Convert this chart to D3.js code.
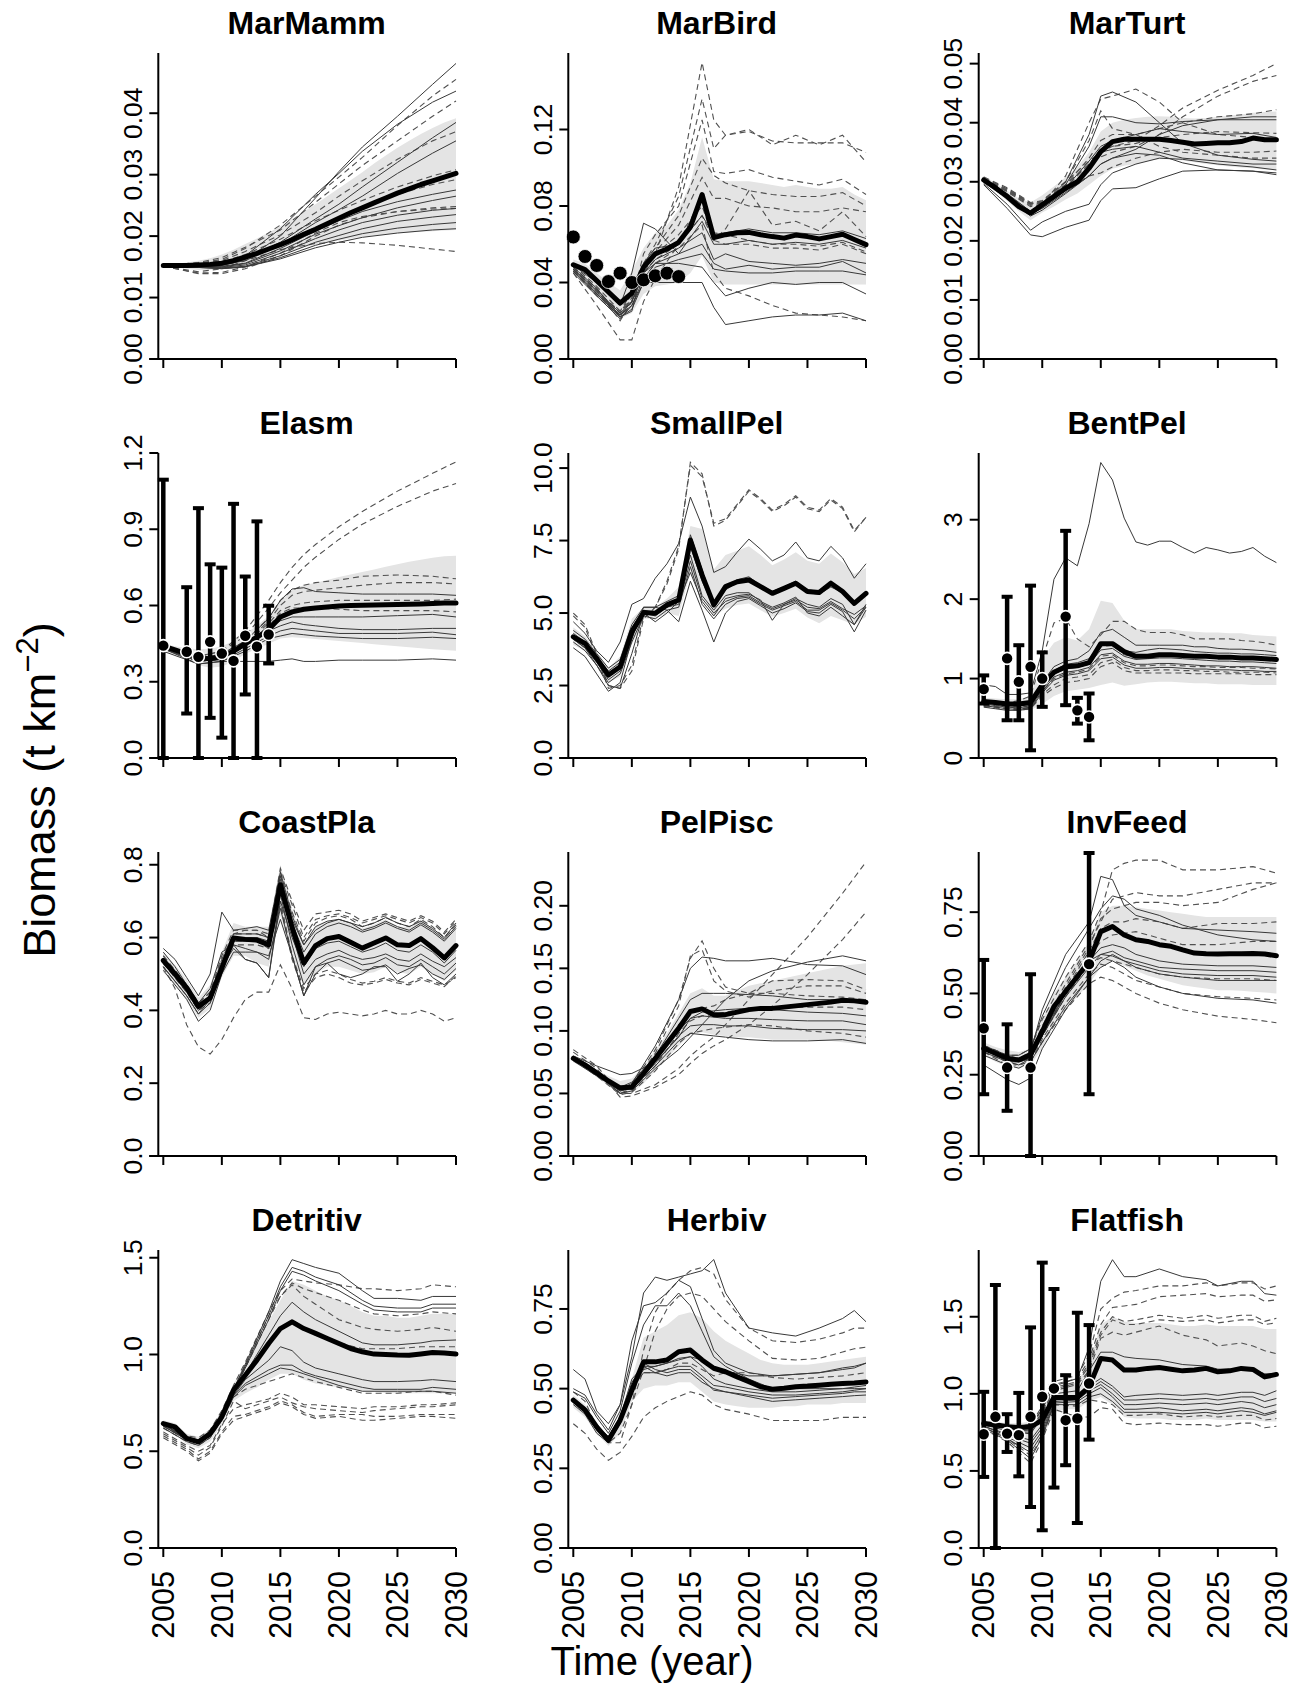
<!DOCTYPE html>
<html><head><meta charset="utf-8">
<script src="https://cdn.jsdelivr.net/npm/d3@7"></script>
<style>body{margin:0;background:#fff;}svg{display:block;font-family:"Liberation Sans",Arial,sans-serif;}</style>
</head><body>
<script>
// ---------------- DATA ----------------
const years = [2005,2006,2007,2008,2009,2010,2011,2012,2013,2014,2015,2016,2017,2018,2019,2020,2021,2022,2023,2024,2025,2026,2027,2028,2029,2030];
const xTicks = [2005,2010,2015,2020,2025,2030];
const panelNames = ["MarMamm","MarBird","MarTurt","Elasm","SmallPel","BentPel","CoastPla","PelPisc","InvFeed","Detritiv","Herbiv","Flatfish"];
const yMax = [0.0498,0.160,0.0518,1.2,10.52,3.84,0.835,0.243,0.935,1.54,0.935,1.933];
const yTickVals = [[0,0.01,0.02,0.03,0.04],[0,0.04,0.08,0.12],[0,0.01,0.02,0.03,0.04,0.05],[0,0.3,0.6,0.9,1.2],[0,2.5,5,7.5,10],[0,1,2,3],[0,0.2,0.4,0.6,0.8],[0,0.05,0.10,0.15,0.20],[0,0.25,0.5,0.75],[0,0.5,1,1.5],[0,0.25,0.5,0.75],[0,0.5,1,1.5]];
const yTickLabels = [["0.00","0.01","0.02","0.03","0.04"],["0.00","0.04","0.08","0.12"],["0.00","0.01","0.02","0.03","0.04","0.05"],["0.0","0.3","0.6","0.9","1.2"],["0.0","2.5","5.0","7.5","10.0"],["0","1","2","3"],["0.0","0.2","0.4","0.6","0.8"],["0.00","0.05","0.10","0.15","0.20"],["0.00","0.25","0.50","0.75"],["0.0","0.5","1.0","1.5"],["0.00","0.25","0.50","0.75"],["0.0","0.5","1.0","1.5"]];

// MarMamm
const mmMean = [.0152,.0152,.0152,.0153,.0154,.0156,.0160,.0166,.0172,.0179,.0186,.0194,.0203,.0211,.0220,.0229,.0238,.0246,.0254,.0262,.0270,.0277,.0284,.0290,.0296,.0302];
const mmHi = [.0154,.0155,.0157,.0160,.0164,.0170,.0178,.0187,.0196,.0206,.0216,.0228,.0240,.0252,.0265,.0278,.0291,.0304,.0318,.0331,.0344,.0355,.0366,.0376,.0385,.0392];
const mmLo = [.0150,.0149,.0147,.0145,.0145,.0147,.0151,.0156,.0161,.0167,.0172,.0177,.0182,.0186,.0190,.0193,.0196,.0199,.0201,.0203,.0205,.0206,.0207,.0208,.0209,.0210];
const mmKey = [2005,2008,2010,2012,2015,2018,2020,2022,2025,2028,2030];
const mmSolid = [
 [.0152,.0151,.0152,.0162,.0200,.0262,.0305,.0345,.0395,.0447,.0481],
 [.0152,.0153,.0156,.0168,.0212,.0268,.0302,.0338,.0382,.0418,.0436],
 [.0152,.0152,.0154,.0162,.0190,.0228,.0252,.0280,.0320,.0360,.0385],
 [.0152,.0152,.0153,.0160,.0186,.0222,.0243,.0265,.0302,.0335,.0355],
 [.0152,.0151,.0151,.0156,.0180,.0208,.0225,.0240,.0256,.0268,.0275],
 [.0152,.0151,.0150,.0155,.0176,.0203,.0217,.0230,.0246,.0258,.0265],
 [.0152,.0150,.0149,.0153,.0172,.0196,.0210,.0222,.0234,.0242,.0245],
 [.0152,.0150,.0148,.0151,.0168,.0190,.0201,.0212,.0224,.0231,.0235],
 [.0151,.0149,.0147,.0150,.0165,.0185,.0195,.0204,.0213,.0219,.0222],
 [.0151,.0149,.0147,.0150,.0163,.0181,.0190,.0198,.0205,.0210,.0212]];
const mmDashed = [
 [.0152,.0156,.0162,.0180,.0218,.0265,.0296,.0328,.0380,.0428,.0455],
 [.0152,.0157,.0165,.0182,.0210,.0255,.0285,.0315,.0355,.0395,.0420],
 [.0152,.0155,.0160,.0175,.0202,.0238,.0265,.0290,.0325,.0355,.0370],
 [.0152,.0154,.0158,.0170,.0195,.0225,.0242,.0258,.0280,.0298,.0308],
 [.0152,.0153,.0156,.0166,.0188,.0214,.0230,.0246,.0268,.0284,.0292],
 [.0151,.0140,.0141,.0150,.0172,.0205,.0222,.0232,.0240,.0244,.0245],
 [.0151,.0142,.0147,.0160,.0178,.0188,.0190,.0189,.0185,.0179,.0175],
 [.0151,.0139,.0139,.0147,.0168,.0200,.0218,.0230,.0240,.0246,.0248]];

// MarBird
const mbMean = [.0493,.0468,.0410,.0350,.0292,.0345,.0480,.0550,.0575,.0610,.0690,.0860,.0635,.0650,.0660,.0662,.0650,.0640,.0632,.0648,.0640,.0628,.0640,.0652,.0625,.0598];
const mbHi = [.052,.050,.045,.040,.036,.046,.058,.066,.070,.078,.092,.116,.094,.093,.093,.093,.092,.091,.090,.091,.090,.089,.089,.090,.086,.083];
const mbLo = [.045,.042,.034,.027,.021,.024,.034,.038,.039,.040,.045,.054,.040,.039,.039,.039,.039,.039,.039,.039,.039,.039,.039,.039,.039,.039];
const mbKey = [2005,2007,2009,2010,2011,2012,2014,2016,2017,2018,2020,2022,2024,2026,2028,2030];
const mbDashed = [
 [.050,.040,.030,.035,.045,.055,.090,.155,.125,.117,.120,.112,.117,.112,.117,.103],
 [.049,.038,.025,.030,.050,.060,.085,.136,.110,.117,.119,.114,.113,.113,.113,.108],
 [.048,.036,.020,.030,.055,.065,.080,.125,.098,.097,.099,.095,.093,.091,.094,.086],
 [.048,.037,.022,.032,.050,.058,.075,.105,.096,.092,.088,.086,.085,.085,.087,.080],
 [.047,.036,.024,.034,.050,.056,.070,.095,.084,.084,.080,.079,.077,.077,.079,.077],
 [.047,.035,.025,.035,.048,.055,.065,.080,.062,.068,.088,.070,.072,.067,.077,.064],
 [.046,.034,.024,.032,.045,.052,.060,.075,.062,.060,.060,.058,.058,.057,.060,.055],
 [.046,.033,.022,.030,.042,.050,.058,.070,.045,.037,.033,.028,.024,.023,.022,.020],
 [.045,.028,.010,.010,.030,.042,.060,.085,.066,.065,.062,.060,.060,.059,.061,.056]];
const mbSolid = [
 [.048,.037,.022,.025,.050,.058,.060,.075,.065,.066,.068,.066,.066,.065,.067,.063],
 [.047,.036,.024,.030,.045,.052,.058,.066,.052,.055,.051,.050,.049,.050,.052,.050],
 [.047,.035,.023,.028,.042,.050,.055,.060,.050,.047,.049,.047,.048,.048,.051,.045],
 [.046,.034,.022,.026,.040,.048,.052,.055,.047,.046,.045,.045,.046,.046,.046,.044],
 [.046,.034,.023,.030,.045,.050,.050,.048,.040,.033,.037,.040,.039,.040,.040,.034],
 [.045,.033,.021,.028,.040,.040,.040,.040,.027,.018,.020,.022,.023,.023,.024,.020],
 [.049,.040,.028,.045,.071,.068,.055,.072,.060,.060,.062,.060,.061,.060,.062,.058]];
const mbObsYears = [2005,2006,2007,2008,2009,2010,2011,2012,2013,2014];
const mbObsVal = [.0638,.0536,.0489,.0405,.0449,.0400,.0414,.0435,.0449,.0431];

// MarTurt
const mtMean = [.0303,.0290,.0275,.0258,.0247,.0261,.0275,.0289,.0300,.0323,.0351,.0368,.0372,.0372,.0372,.0372,.0370,.0367,.0364,.0365,.0366,.0366,.0368,.0374,.0371,.0371];
const mtHi = [.0310,.0298,.0285,.0272,.0265,.0277,.0292,.0308,.0325,.0350,.0385,.0400,.0405,.0408,.0410,.0411,.0410,.0408,.0407,.0408,.0410,.0412,.0414,.0417,.0418,.0419];
const mtLo = [.0298,.0284,.0268,.0250,.0235,.0248,.0258,.0270,.0280,.0295,.0310,.0322,.0327,.0330,.0335,.0338,.0338,.0336,.0333,.0330,.0328,.0326,.0324,.0323,.0321,.0320];
const mtKey = [2005,2007,2009,2010,2012,2014,2015,2016,2018,2020,2022,2025,2028,2030];
const mtSolid = [
 [.0295,.0255,.0210,.0207,.0223,.0235,.0268,.0288,.0290,.0305,.0318,.0320,.0318,.0312],
 [.0297,.0262,.0218,.0232,.0250,.0262,.0295,.0315,.0330,.0340,.0338,.0330,.0325,.0320],
 [.0302,.0280,.0250,.0260,.0300,.0380,.0445,.0452,.0435,.0400,.0365,.0345,.0338,.0335],
 [.0302,.0278,.0250,.0262,.0295,.0360,.0410,.0410,.0400,.0398,.0402,.0405,.0405,.0405],
 [.0301,.0276,.0248,.0258,.0290,.0335,.0360,.0370,.0380,.0390,.0385,.0380,.0382,.0375],
 [.0300,.0274,.0246,.0255,.0282,.0310,.0330,.0340,.0355,.0380,.0395,.0405,.0410,.0410],
 [.0300,.0275,.0245,.0256,.0285,.0320,.0350,.0355,.0360,.0350,.0340,.0335,.0330,.0330],
 [.0299,.0272,.0242,.0252,.0280,.0310,.0330,.0340,.0348,.0345,.0332,.0320,.0318,.0315]];
const mtDashed = [
 [.0308,.0290,.0265,.0268,.0300,.0335,.0350,.0360,.0370,.0395,.0425,.0455,.0480,.0500],
 [.0306,.0288,.0262,.0266,.0295,.0330,.0342,.0350,.0360,.0380,.0410,.0445,.0470,.0480],
 [.0306,.0288,.0264,.0262,.0310,.0400,.0440,.0445,.0457,.0435,.0400,.0380,.0375,.0368],
 [.0305,.0285,.0262,.0265,.0295,.0340,.0370,.0380,.0380,.0390,.0400,.0410,.0415,.0422],
 [.0306,.0286,.0263,.0268,.0300,.0370,.0420,.0390,.0380,.0360,.0350,.0345,.0340,.0340],
 [.0304,.0283,.0258,.0262,.0285,.0310,.0315,.0325,.0340,.0350,.0355,.0350,.0350,.0352],
 [.0305,.0284,.0260,.0264,.0290,.0330,.0355,.0360,.0365,.0375,.0380,.0385,.0383,.0382]];

// Elasm
const elMean = [.440,.425,.410,.395,.390,.400,.420,.450,.475,.505,.555,.575,.585,.590,.594,.598,.600,.601,.602,.603,.604,.605,.606,.608,.610,.610];
const elHi = [.450,.440,.432,.428,.430,.440,.460,.490,.520,.560,.620,.665,.680,.690,.700,.712,.722,.732,.742,.752,.762,.772,.780,.788,.794,.796];
const elLo = [.425,.405,.385,.365,.355,.360,.380,.410,.430,.450,.470,.475,.472,.468,.464,.460,.456,.452,.448,.444,.440,.436,.432,.428,.425,.422];
const elKey = [2005,2008,2010,2012,2014,2015,2016,2017,2018,2020,2022,2025,2028,2030];
const elDashed = [
 [.44,.40,.42,.50,.62,.69,.75,.80,.84,.91,.97,1.05,1.12,1.165],
 [.44,.40,.42,.48,.59,.65,.70,.75,.79,.86,.92,.99,1.05,1.08],
 [.44,.39,.41,.46,.55,.62,.66,.68,.69,.70,.715,.72,.715,.705],
 [.44,.39,.40,.45,.54,.60,.64,.655,.66,.67,.68,.69,.69,.685],
 [.43,.39,.40,.45,.53,.58,.60,.61,.615,.62,.62,.62,.62,.625],
 [.43,.38,.39,.44,.52,.57,.59,.59,.59,.585,.58,.58,.58,.575]];
const elSolid = [
 [.44,.39,.41,.46,.55,.62,.665,.67,.655,.65,.645,.645,.645,.64],
 [.43,.38,.39,.44,.51,.54,.555,.555,.555,.555,.555,.56,.565,.555],
 [.43,.38,.39,.44,.50,.52,.535,.525,.52,.51,.505,.505,.51,.51],
 [.43,.37,.38,.43,.48,.50,.51,.505,.50,.49,.49,.49,.495,.485],
 [.42,.37,.38,.42,.47,.48,.49,.485,.48,.475,.47,.47,.475,.47],
 [.43,.39,.38,.38,.38,.385,.39,.38,.38,.385,.385,.385,.39,.385]];
const elObsYears = [2005,2007,2008,2009,2010,2011,2012,2013,2014];
const elObsVal = [.442,.418,.398,.457,.411,.382,.481,.438,.486];
const elObsLo = [0,.175,0,.158,.080,0,.250,0,.372];
const elObsHi = [1.095,.672,.983,.762,.749,1.0,.714,.931,.599];

// SmallPel
const spMean = [4.18,3.95,3.43,2.86,3.15,4.35,5.02,4.99,5.28,5.45,7.52,6.31,5.28,5.91,6.08,6.14,5.91,5.68,5.85,6.03,5.74,5.71,6.03,5.74,5.33,5.68];
const spHi = [4.5,4.2,3.7,3.1,3.5,4.8,5.2,5.2,5.5,5.9,8.0,7.9,6.5,7.0,7.15,7.3,7.0,6.65,6.85,7.1,6.8,6.7,7.05,6.75,6.35,6.55];
const spLo = [3.9,3.7,3.2,2.6,2.8,3.9,4.8,4.8,5.0,4.9,6.4,5.6,4.9,5.15,5.28,5.33,5.1,4.87,5.0,5.15,4.85,4.65,4.9,4.75,4.6,4.87];
const spKey = years;
const spDashed = [
 [5.0,4.6,3.6,2.5,2.4,3.0,4.8,5.2,6.0,7.2,10.2,9.8,8.0,8.2,8.7,9.2,8.9,8.5,8.7,9.0,8.6,8.5,8.9,8.6,7.8,8.3],
 [4.9,4.5,3.5,2.4,2.5,3.2,4.9,5.2,6.1,7.3,10.1,9.7,8.1,8.25,8.75,9.25,8.95,8.55,8.75,9.05,8.65,8.55,8.95,8.65,7.85,8.3]];
const spSolid = [
 [4.7,4.3,3.7,3.3,4.0,5.3,5.5,6.2,6.7,7.4,9.0,8.0,6.4,6.6,7.1,7.55,7.2,6.8,7.0,7.45,6.9,6.8,7.3,6.9,6.2,6.7],
 [4.3,4.0,3.5,3.0,3.3,4.5,5.1,5.0,5.3,5.5,7.7,6.5,5.3,5.9,6.15,6.25,5.95,5.75,5.9,6.1,5.8,5.75,6.0,5.75,5.35,5.75],
 [4.2,3.9,3.4,2.9,3.2,4.4,5.0,5.0,5.2,5.4,7.3,6.1,5.2,5.8,6.05,6.1,5.85,5.65,5.8,6.0,5.7,5.65,5.9,5.7,5.3,5.65],
 [4.1,3.8,3.3,2.7,3.0,4.2,5.0,4.9,5.2,5.3,6.8,5.5,5.0,5.4,5.55,5.6,5.35,5.15,5.3,5.45,5.2,5.15,5.4,5.15,4.95,5.25],
 [4.0,3.7,3.2,2.6,2.9,4.0,4.9,4.8,5.1,5.2,6.6,5.3,4.8,5.3,5.5,5.55,5.3,5.1,5.25,5.4,5.1,5.1,5.35,5.1,4.8,5.2],
 [3.8,3.5,2.9,2.3,2.6,4.1,5.2,5.2,5.1,4.7,6.1,5.1,4.0,5.0,5.4,5.5,5.25,5.0,5.15,5.35,5.05,5.0,5.3,5.05,4.35,5.1],
 [4.4,4.1,3.6,3.1,3.4,4.6,5.2,5.2,5.4,5.6,7.0,5.6,5.1,5.6,5.7,5.7,5.4,5.2,5.35,5.55,5.0,4.9,5.2,4.9,4.6,5.2],
 [4.1,3.8,3.2,2.5,2.4,3.6,5.0,4.7,5.0,5.4,6.4,5.4,4.9,5.5,5.6,5.65,5.45,4.75,5.3,5.5,5.3,5.2,5.5,5.3,4.6,5.3]];

// BentPel
const bpMean = [.71,.70,.68,.68,.70,.92,1.08,1.15,1.16,1.20,1.44,1.44,1.34,1.28,1.28,1.30,1.30,1.29,1.28,1.28,1.27,1.27,1.26,1.26,1.25,1.24];
const bpHi = [.76,.75,.74,.74,.78,1.25,1.45,1.52,1.48,1.62,1.98,1.95,1.73,1.62,1.62,1.62,1.62,1.60,1.59,1.58,1.58,1.57,1.57,1.55,1.54,1.53];
const bpLo = [.66,.64,.62,.60,.60,.68,.78,.84,.86,.88,.92,.95,.91,.93,.95,.96,.96,.95,.94,.94,.93,.93,.93,.92,.92,.92];
const bpKey = years;
const bpSolid = [
 [.92,.90,.80,.80,.82,1.35,2.25,2.52,2.42,2.95,3.72,3.50,3.02,2.72,2.68,2.73,2.73,2.65,2.58,2.65,2.62,2.58,2.60,2.65,2.54,2.46],
 [.72,.70,.68,.67,.70,.95,1.15,1.22,1.25,1.35,1.58,1.62,1.52,1.42,1.42,1.42,1.42,1.42,1.40,1.40,1.38,1.37,1.37,1.36,1.35,1.33],
 [.70,.68,.66,.65,.68,.90,1.10,1.18,1.20,1.25,1.45,1.45,1.35,1.33,1.36,1.38,1.37,1.36,1.34,1.33,1.32,1.32,1.31,1.31,1.30,1.29],
 [.68,.66,.64,.63,.66,.86,1.06,1.12,1.14,1.18,1.36,1.38,1.28,1.24,1.25,1.26,1.26,1.25,1.24,1.23,1.22,1.22,1.21,1.21,1.20,1.19],
 [.66,.64,.62,.61,.64,.84,1.02,1.08,1.10,1.14,1.30,1.32,1.22,1.18,1.18,1.19,1.19,1.18,1.17,1.16,1.16,1.15,1.15,1.15,1.14,1.13],
 [.64,.62,.60,.60,.62,.82,.98,1.04,1.06,1.10,1.25,1.27,1.17,1.13,1.13,1.14,1.14,1.13,1.12,1.12,1.11,1.11,1.10,1.10,1.09,1.09]];
const bpDashed = [
 [.72,.70,.70,.72,.78,1.25,1.70,1.76,1.50,1.40,1.55,1.72,1.72,1.62,1.58,1.58,1.58,1.55,1.50,1.50,1.50,1.50,1.48,1.47,1.45,1.42],
 [.69,.67,.65,.64,.66,.88,1.08,1.15,1.16,1.20,1.40,1.42,1.30,1.27,1.28,1.29,1.29,1.28,1.27,1.27,1.26,1.26,1.26,1.25,1.25,1.24],
 [.67,.65,.63,.62,.64,.84,1.00,1.06,1.08,1.12,1.28,1.30,1.20,1.16,1.16,1.17,1.17,1.16,1.15,1.15,1.14,1.14,1.14,1.13,1.13,1.12],
 [.65,.63,.61,.60,.62,.78,.88,.95,.97,1.00,1.15,1.20,1.10,1.07,1.07,1.07,1.07,1.07,1.06,1.06,1.06,1.06,1.06,1.05,1.05,1.05],
 [.66,.64,.62,.61,.63,.80,.92,1.00,1.02,1.05,1.20,1.24,1.14,1.10,1.10,1.11,1.11,1.10,1.10,1.09,1.09,1.08,1.08,1.08,1.08,1.07]];
const bpObsYears = [2005,2007,2008,2009,2010,2012,2013,2014];
const bpObsVal = [.867,1.254,.959,1.148,1.0,1.78,.60,.517];
const bpObsLo = [.686,.475,.475,.097,.644,.665,.433,.223];
const bpObsHi = [1.04,2.03,1.42,2.17,1.33,2.86,.757,.812];

// CoastPla
const cpMean = [.537,.500,.462,.411,.434,.516,.599,.595,.593,.580,.745,.628,.530,.578,.597,.603,.587,.571,.585,.599,.580,.578,.597,.572,.544,.578];
const cpHi = [.560,.525,.485,.435,.470,.560,.640,.630,.630,.630,.800,.680,.580,.630,.645,.650,.640,.625,.635,.650,.630,.630,.650,.625,.600,.630];
const cpLo = [.505,.470,.430,.380,.405,.490,.550,.550,.530,.520,.660,.550,.470,.500,.520,.520,.510,.500,.505,.520,.505,.500,.520,.500,.480,.510];
const cpKey = years;
const cpDashed = [
 [.52,.46,.36,.30,.28,.32,.38,.43,.45,.45,.525,.46,.38,.375,.39,.395,.39,.385,.39,.40,.39,.39,.40,.39,.37,.38],
 [.53,.49,.45,.40,.43,.52,.59,.59,.59,.57,.70,.55,.46,.50,.51,.50,.485,.475,.48,.49,.48,.475,.49,.48,.47,.49],
 [.53,.49,.45,.40,.42,.51,.58,.58,.58,.57,.69,.54,.45,.49,.50,.49,.475,.47,.475,.485,.475,.47,.485,.475,.465,.495],
 [.55,.51,.47,.42,.45,.55,.62,.62,.62,.61,.79,.70,.62,.665,.67,.675,.665,.645,.655,.665,.655,.645,.66,.645,.615,.65],
 [.55,.51,.47,.42,.45,.54,.61,.61,.61,.60,.78,.69,.60,.65,.66,.665,.655,.64,.65,.66,.65,.64,.655,.64,.61,.645],
 [.54,.50,.46,.41,.44,.54,.61,.62,.62,.60,.77,.67,.59,.64,.655,.66,.65,.63,.64,.655,.64,.63,.65,.63,.60,.635]];
const cpSolid = [
 [.54,.50,.46,.41,.44,.53,.60,.60,.60,.59,.76,.64,.56,.61,.63,.64,.63,.615,.625,.64,.625,.615,.635,.615,.59,.625],
 [.53,.49,.45,.40,.43,.52,.59,.59,.59,.58,.74,.61,.50,.54,.555,.565,.55,.54,.545,.555,.54,.535,.555,.535,.52,.545],
 [.52,.48,.44,.39,.42,.51,.58,.57,.56,.54,.68,.55,.44,.50,.53,.54,.525,.51,.515,.525,.50,.515,.525,.50,.485,.515],
 [.52,.48,.44,.39,.43,.52,.57,.54,.53,.49,.72,.58,.47,.52,.53,.50,.49,.50,.52,.52,.48,.50,.53,.49,.47,.50],
 [.57,.54,.49,.44,.50,.67,.62,.625,.63,.62,.78,.66,.58,.63,.645,.65,.64,.63,.64,.655,.64,.63,.645,.625,.60,.64],
 [.56,.52,.47,.42,.46,.56,.58,.54,.53,.49,.70,.60,.52,.57,.585,.59,.575,.56,.57,.585,.565,.56,.58,.56,.53,.565],
 [.51,.47,.43,.37,.40,.50,.56,.56,.56,.55,.65,.55,.44,.52,.54,.55,.54,.525,.53,.545,.525,.52,.54,.52,.50,.53],
 [.54,.50,.46,.41,.44,.53,.61,.61,.61,.60,.77,.65,.58,.62,.64,.65,.64,.62,.63,.645,.63,.62,.64,.62,.595,.63]];

// PelPisc
const ppMean = [.078,.0728,.0665,.060,.0545,.055,.066,.078,.090,.102,.1155,.1176,.113,.113,.115,.117,.118,.118,.119,.120,.121,.122,.123,.1245,.124,.1229];
const ppHi = [.080,.075,.069,.064,.060,.062,.072,.085,.098,.114,.130,.134,.128,.128,.132,.136,.138,.140,.142,.144,.146,.148,.150,.152,.153,.154];
const ppLo = [.075,.070,.063,.056,.050,.050,.058,.068,.078,.088,.097,.099,.097,.096,.095,.095,.094,.093,.093,.093,.093,.092,.092,.091,.090,.089];
const ppKey = [2005,2007,2009,2010,2012,2014,2015,2016,2017,2018,2020,2022,2025,2028,2030];
const ppDashed = [
 [.085,.072,.050,.050,.057,.070,.080,.088,.095,.105,.125,.145,.175,.210,.235],
 [.083,.070,.047,.048,.055,.065,.074,.082,.088,.093,.105,.120,.145,.173,.195],
 [.080,.068,.053,.057,.085,.125,.158,.172,.150,.135,.130,.140,.141,.140,.133],
 [.080,.068,.052,.056,.082,.120,.160,.165,.140,.132,.127,.132,.136,.136,.130],
 [.079,.066,.050,.054,.075,.105,.115,.118,.120,.125,.130,.130,.128,.127,.125],
 [.078,.065,.050,.053,.072,.098,.108,.112,.113,.115,.118,.119,.119,.119,.117],
 [.077,.064,.049,.051,.068,.090,.098,.100,.102,.103,.105,.104,.100,.098,.095]];
const ppSolid = [
 [.079,.067,.054,.058,.088,.125,.150,.159,.158,.156,.156,.158,.153,.152,.145],
 [.078,.066,.050,.052,.070,.085,.095,.105,.115,.125,.140,.148,.155,.160,.156],
 [.079,.067,.055,.059,.080,.110,.125,.130,.130,.130,.129,.128,.125,.125,.125],
 [.078,.066,.053,.056,.076,.100,.110,.112,.111,.110,.110,.109,.108,.108,.105],
 [.077,.065,.052,.055,.074,.096,.104,.105,.105,.104,.104,.102,.101,.101,.100],
 [.076,.064,.052,.054,.072,.092,.098,.097,.096,.095,.093,.092,.092,.093,.090],
 [.080,.072,.065,.066,.075,.095,.110,.115,.116,.117,.118,.117,.115,.114,.112]];

// InvFeed
const ifMean = [.331,.316,.301,.295,.311,.383,.46,.506,.552,.598,.69,.706,.68,.665,.66,.65,.645,.634,.624,.622,.621,.622,.622,.623,.621,.616];
const ifHi = [.35,.335,.325,.32,.33,.42,.50,.55,.60,.66,.75,.77,.77,.765,.76,.755,.75,.745,.74,.735,.735,.735,.735,.735,.735,.735];
const ifLo = [.31,.29,.275,.27,.28,.33,.40,.45,.49,.53,.58,.60,.585,.57,.555,.545,.535,.525,.52,.515,.51,.51,.508,.505,.503,.50];
const ifKey = [2005,2007,2008,2009,2010,2012,2014,2015,2016,2017,2018,2020,2022,2025,2028,2030];
const ifDashed = [
 [.34,.31,.31,.33,.42,.55,.66,.75,.88,.90,.91,.91,.88,.88,.89,.87],
 [.34,.31,.30,.32,.40,.53,.65,.72,.79,.80,.81,.80,.80,.82,.84,.84],
 [.33,.30,.30,.31,.39,.52,.64,.73,.76,.77,.78,.78,.77,.78,.82,.84],
 [.33,.30,.29,.31,.38,.51,.63,.70,.72,.72,.73,.72,.70,.715,.715,.72],
 [.33,.29,.29,.30,.37,.50,.61,.66,.68,.685,.69,.67,.65,.65,.66,.66],
 [.32,.29,.28,.29,.36,.47,.56,.59,.58,.56,.54,.52,.50,.49,.485,.48],
 [.32,.28,.28,.29,.35,.45,.53,.55,.54,.52,.50,.47,.45,.43,.42,.41],
 [.33,.30,.29,.30,.37,.49,.59,.61,.60,.59,.58,.56,.55,.545,.545,.54]];
const ifSolid = [
 [.33,.30,.30,.32,.45,.62,.72,.86,.85,.77,.74,.72,.70,.695,.69,.685],
 [.34,.31,.31,.33,.43,.58,.70,.76,.80,.79,.76,.74,.71,.68,.665,.66],
 [.33,.30,.29,.31,.38,.50,.60,.64,.65,.64,.62,.60,.59,.585,.585,.58],
 [.33,.29,.29,.30,.37,.49,.58,.62,.63,.61,.60,.58,.575,.57,.57,.565],
 [.32,.29,.28,.30,.37,.50,.60,.62,.615,.60,.59,.57,.56,.555,.555,.55],
 [.31,.28,.27,.29,.35,.46,.55,.58,.60,.58,.55,.52,.50,.485,.48,.47],
 [.28,.235,.22,.24,.33,.45,.55,.60,.62,.60,.58,.56,.55,.54,.54,.54]];
const ifObsYears = [2005,2007,2009,2014];
const ifObsVal = [.393,.272,.272,.59];
const ifObsLo = [.19,.139,0,.19];
const ifObsHi = [.603,.405,.559,.932];

// Detritiv
const dtMean = [.643,.626,.566,.548,.591,.678,.816,.893,.971,1.057,1.134,1.169,1.134,1.109,1.083,1.057,1.031,1.014,1.002,1.0,.997,.996,1.003,1.01,1.008,1.002];
const dtHi = [.66,.645,.59,.575,.615,.71,.85,.95,1.06,1.17,1.28,1.38,1.36,1.33,1.30,1.28,1.25,1.22,1.20,1.20,1.19,1.19,1.20,1.21,1.21,1.21];
const dtLo = [.61,.59,.535,.515,.55,.64,.76,.80,.83,.87,.90,.90,.87,.85,.84,.83,.82,.81,.81,.80,.80,.80,.80,.80,.80,.80];
const dtKey = [2005,2007,2008,2009,2010,2011,2012,2014,2015,2016,2017,2018,2020,2022,2023,2025,2027,2028,2030];
const dtSolid = [
 [.64,.57,.55,.59,.69,.82,.95,1.22,1.38,1.49,1.47,1.45,1.42,1.33,1.29,1.29,1.28,1.30,1.30],
 [.64,.57,.55,.59,.69,.82,.94,1.20,1.35,1.45,1.43,1.40,1.36,1.28,1.25,1.24,1.24,1.26,1.26],
 [.64,.57,.55,.59,.68,.81,.93,1.18,1.33,1.43,1.41,1.38,1.33,1.26,1.23,1.22,1.22,1.24,1.24],
 [.64,.56,.54,.58,.68,.80,.90,1.10,1.20,1.27,1.22,1.18,1.12,1.06,1.05,1.05,1.06,1.07,1.075],
 [.63,.56,.54,.58,.67,.79,.87,.97,1.04,1.02,.96,.93,.90,.87,.86,.86,.865,.87,.86],
 [.63,.56,.54,.58,.67,.79,.85,.92,.945,.945,.91,.89,.86,.83,.82,.82,.82,.83,.82],
 [.62,.55,.53,.57,.66,.78,.84,.90,.93,.92,.90,.88,.84,.81,.81,.81,.81,.81,.80]];
const dtDashed = [
 [.65,.58,.57,.61,.71,.84,.96,1.22,1.33,1.39,1.38,1.37,1.36,1.34,1.34,1.33,1.34,1.36,1.35],
 [.64,.57,.56,.60,.70,.82,.94,1.20,1.30,1.37,1.34,1.32,1.28,1.23,1.21,1.20,1.21,1.22,1.21],
 [.64,.57,.55,.59,.69,.82,.93,1.18,1.30,1.36,1.30,1.26,1.18,1.14,1.13,1.12,1.13,1.14,1.12],
 [.63,.56,.54,.58,.68,.80,.88,1.05,1.13,1.18,1.14,1.10,1.06,1.03,1.03,1.03,1.04,1.04,1.04],
 [.62,.55,.53,.57,.66,.78,.82,.86,.88,.90,.88,.86,.83,.80,.80,.80,.81,.81,.79],
 [.60,.53,.50,.53,.64,.72,.74,.77,.80,.78,.74,.74,.73,.72,.73,.73,.74,.74,.75],
 [.59,.52,.48,.52,.63,.76,.72,.76,.78,.75,.73,.72,.71,.70,.71,.72,.73,.73,.74],
 [.58,.51,.46,.50,.60,.68,.69,.73,.76,.74,.70,.68,.69,.69,.68,.68,.69,.69,.69],
 [.57,.50,.45,.49,.59,.66,.68,.72,.75,.73,.69,.67,.68,.66,.66,.67,.68,.68,.67]];

// Herbiv
const hbMean = [.464,.433,.38,.338,.401,.495,.584,.584,.59,.616,.621,.59,.564,.553,.537,.522,.506,.498,.501,.506,.508,.511,.514,.516,.518,.521];
const hbHi = [.48,.45,.39,.35,.42,.53,.66,.68,.70,.73,.74,.72,.68,.65,.63,.61,.59,.58,.575,.575,.575,.58,.585,.59,.595,.60];
const hbLo = [.44,.41,.36,.32,.36,.46,.50,.51,.51,.52,.52,.49,.46,.45,.445,.44,.44,.44,.445,.445,.45,.45,.45,.455,.455,.455];
const hbKey = [2005,2006,2007,2008,2009,2010,2011,2012,2013,2014,2015,2016,2017,2018,2020,2022,2024,2026,2028,2029,2030];
const hbSolid = [
 [.56,.53,.43,.39,.45,.60,.80,.85,.84,.85,.86,.87,.905,.80,.69,.675,.665,.69,.72,.745,.71],
 [.50,.48,.42,.37,.45,.65,.76,.77,.80,.84,.82,.72,.62,.58,.55,.54,.545,.55,.56,.565,.58],
 [.49,.47,.41,.36,.43,.58,.70,.76,.76,.80,.76,.68,.60,.57,.53,.50,.50,.50,.50,.50,.50],
 [.46,.43,.37,.34,.40,.52,.57,.55,.54,.55,.55,.52,.50,.49,.48,.47,.475,.48,.485,.49,.49],
 [.45,.42,.36,.33,.39,.50,.55,.55,.56,.57,.57,.54,.51,.505,.49,.48,.48,.485,.49,.495,.50],
 [.47,.44,.38,.35,.41,.51,.58,.56,.55,.56,.56,.53,.495,.49,.475,.46,.465,.47,.475,.478,.48],
 [.46,.43,.37,.34,.40,.50,.56,.57,.58,.595,.60,.57,.53,.515,.50,.49,.49,.495,.50,.505,.51],
 [.47,.44,.38,.35,.41,.53,.57,.57,.58,.59,.60,.59,.57,.555,.54,.54,.545,.55,.565,.57,.58]];
const hbDashed = [
 [.49,.46,.38,.33,.33,.45,.62,.74,.80,.84,.87,.88,.86,.78,.69,.65,.645,.655,.675,.69,.69],
 [.47,.44,.37,.33,.36,.45,.56,.68,.75,.79,.80,.79,.75,.71,.65,.595,.59,.595,.615,.625,.63],
 [.39,.36,.31,.275,.30,.35,.41,.44,.46,.475,.49,.48,.45,.435,.42,.40,.40,.40,.41,.41,.41],
 [.46,.43,.37,.34,.40,.51,.55,.55,.56,.58,.58,.56,.54,.55,.55,.535,.53,.535,.54,.545,.55]];

// Flatfish
const ffMean = [.807,.80,.786,.781,.786,.829,.977,.977,.977,1.045,1.229,1.219,1.154,1.154,1.165,1.171,1.16,1.149,1.154,1.165,1.143,1.149,1.165,1.158,1.11,1.126];
const ffHi = [.83,.82,.81,.81,.82,.90,1.02,1.05,1.08,1.20,1.45,1.50,1.47,1.46,1.46,1.46,1.45,1.44,1.44,1.45,1.44,1.44,1.44,1.44,1.42,1.42];
const ffLo = [.75,.73,.69,.66,.64,.70,.88,.90,.90,.95,.98,.93,.85,.84,.84,.84,.83,.83,.83,.84,.83,.83,.83,.83,.82,.82];
const ffKey = [2005,2007,2009,2010,2011,2013,2014,2015,2016,2017,2018,2020,2022,2024,2025,2027,2028,2029,2030];
const ffSolid = [
 [.81,.78,.80,.90,1.05,1.10,1.30,1.73,1.87,1.76,1.76,1.81,1.76,1.74,1.70,1.73,1.73,1.65,1.64],
 [.80,.76,.74,.85,1.00,1.02,1.15,1.27,1.27,1.24,1.23,1.22,1.19,1.18,1.16,1.16,1.16,1.13,1.13],
 [.79,.74,.70,.80,.97,.98,1.05,1.10,1.05,.98,.99,1.00,.99,1.00,.99,1.01,1.01,.99,1.02],
 [.79,.73,.68,.78,.96,.97,1.03,1.08,1.03,.96,.96,.97,.96,.97,.96,.98,.98,.95,.97],
 [.78,.72,.65,.76,.95,.96,1.02,1.06,1.00,.93,.93,.94,.93,.94,.93,.95,.94,.91,.93],
 [.78,.71,.62,.74,.94,.95,1.00,1.04,.98,.90,.90,.91,.89,.90,.89,.91,.90,.87,.89],
 [.77,.70,.58,.72,.93,.93,.98,1.00,.95,.88,.88,.88,.87,.88,.87,.89,.88,.86,.88]];
const ffDashed = [
 [.82,.78,.80,.92,1.08,1.12,1.25,1.55,1.62,1.66,1.67,1.70,1.70,1.72,1.70,1.72,1.72,1.68,1.70],
 [.82,.78,.78,.90,1.06,1.10,1.22,1.45,1.56,1.57,1.58,1.63,1.64,1.65,1.63,1.64,1.64,1.60,1.61],
 [.81,.77,.77,.88,1.04,1.08,1.20,1.40,1.50,1.47,1.48,1.51,1.49,1.51,1.49,1.51,1.51,1.47,1.49],
 [.81,.77,.76,.87,1.03,1.07,1.18,1.38,1.48,1.45,1.45,1.48,1.47,1.48,1.46,1.48,1.48,1.45,1.46],
 [.80,.76,.75,.86,1.02,1.06,1.15,1.36,1.40,1.38,1.40,1.44,1.38,1.35,1.31,1.33,1.31,1.28,1.26],
 [.78,.71,.60,.72,.93,.92,.96,.95,.93,.86,.86,.87,.85,.86,.85,.86,.86,.83,.84],
 [.77,.69,.55,.70,.90,.85,.85,.91,.90,.81,.80,.81,.80,.80,.79,.81,.81,.78,.79]];
const ffObsYears = [2005,2006,2007,2008,2009,2010,2011,2012,2013,2014];
const ffObsVal = [.738,.851,.742,.732,.851,.981,1.035,.829,.84,1.067];
const ffObsLo = [.461,0,.623,.465,.266,.115,.392,.537,.162,.703];
const ffObsHi = [1.013,1.706,.868,1.006,1.431,1.851,1.68,1.121,1.526,1.446];

// ---------------- TABLE ----------------
const panels = [
 {mean:mmMean,hi:mmHi,lo:mmLo,key:mmKey,solid:mmSolid,dashed:mmDashed},
 {mean:mbMean,hi:mbHi,lo:mbLo,key:mbKey,solid:mbSolid,dashed:mbDashed,obsY:mbObsYears,obsV:mbObsVal},
 {mean:mtMean,hi:mtHi,lo:mtLo,key:mtKey,solid:mtSolid,dashed:mtDashed},
 {mean:elMean,hi:elHi,lo:elLo,key:elKey,solid:elSolid,dashed:elDashed,obsY:elObsYears,obsV:elObsVal,obsLo:elObsLo,obsHi:elObsHi},
 {mean:spMean,hi:spHi,lo:spLo,key:spKey,solid:spSolid,dashed:spDashed},
 {mean:bpMean,hi:bpHi,lo:bpLo,key:bpKey,solid:bpSolid,dashed:bpDashed,obsY:bpObsYears,obsV:bpObsVal,obsLo:bpObsLo,obsHi:bpObsHi},
 {mean:cpMean,hi:cpHi,lo:cpLo,key:cpKey,solid:cpSolid,dashed:cpDashed},
 {mean:ppMean,hi:ppHi,lo:ppLo,key:ppKey,solid:ppSolid,dashed:ppDashed},
 {mean:ifMean,hi:ifHi,lo:ifLo,key:ifKey,solid:ifSolid,dashed:ifDashed,obsY:ifObsYears,obsV:ifObsVal,obsLo:ifObsLo,obsHi:ifObsHi},
 {mean:dtMean,hi:dtHi,lo:dtLo,key:dtKey,solid:dtSolid,dashed:dtDashed},
 {mean:hbMean,hi:hbHi,lo:hbLo,key:hbKey,solid:hbSolid,dashed:hbDashed},
 {mean:ffMean,hi:ffHi,lo:ffLo,key:ffKey,solid:ffSolid,dashed:ffDashed,obsY:ffObsYears,obsV:ffObsVal,obsLo:ffObsLo,obsHi:ffObsHi}
];
panels.forEach((p,i)=>{p.name=panelNames[i];p.ymax=yMax[i];p.ticks=yTickVals[i];p.tickLabels=yTickLabels[i];});

// ---------------- LAYOUT ----------------
const W = 1298, H = 1686;
const colX = [163.3, 573.3, 983.7];
const plotW = 292.7;
const rowTop = [53, 453, 852, 1250];
const rowBottom = [359, 758, 1156, 1548];
const yTickFont = 26.5, xTickFont = 30.5, titleFont = 32;

const svg = d3.select("body").append("svg").attr("width",W).attr("height",H);
svg.append("rect").attr("width",W).attr("height",H).attr("fill","#fff");

panels.forEach((p,i)=>{
  const col = i%3, row = Math.floor(i/3);
  const x = d3.scaleLinear().domain([2005,2030]).range([colX[col], colX[col]+plotW]);
  const y = d3.scaleLinear().domain([0,p.ymax]).range([rowBottom[row], rowTop[row]]);
  const g = svg.append("g");
  const axX = colX[col]-5;
  const y0 = y(0);

  // band
  g.append("path")
    .datum(years.map((yr,k)=>({yr, lo:p.lo[k], hi:p.hi[k]})))
    .attr("d", d3.area().x(d=>x(d.yr)).y0(d=>y(d.lo)).y1(d=>y(d.hi)))
    .attr("fill","#e4e4e4");

  const ln = d3.line().x(d=>x(d[0])).y(d=>y(d[1]));
  p.dashed.forEach(vals=>{
    g.append("path").datum(p.key.map((yr,k)=>[yr,vals[k]]))
     .attr("d",ln).attr("fill","none").attr("stroke","#505050")
     .attr("stroke-width",1.1).attr("stroke-dasharray","6,4");
  });
  p.solid.forEach(vals=>{
    g.append("path").datum(p.key.map((yr,k)=>[yr,vals[k]]))
     .attr("d",ln).attr("fill","none").attr("stroke","#383838").attr("stroke-width",1);
  });
  // mean line
  g.append("path").datum(years.map((yr,k)=>[yr,p.mean[k]]))
   .attr("d",ln).attr("fill","none").attr("stroke","#000")
   .attr("stroke-width",5).attr("stroke-linejoin","round").attr("stroke-linecap","round");

  // observations
  if (p.obsY) {
    if (p.obsLo) {
      p.obsY.forEach((yr,k)=>{
        const cx = x(yr), a = y(p.obsLo[k]), b = y(p.obsHi[k]);
        g.append("line").attr("x1",cx).attr("x2",cx).attr("y1",a).attr("y2",b).attr("stroke","#000").attr("stroke-width",4.5);
        [a,b].forEach(v=>g.append("line").attr("x1",cx-5.5).attr("x2",cx+5.5).attr("y1",v).attr("y2",v).attr("stroke","#000").attr("stroke-width",4));
      });
    }
    p.obsY.forEach((yr,k)=>{
      g.append("circle").attr("cx",x(yr)).attr("cy",y(p.obsV[k]))
       .attr("r", p.obsLo ? 6 : 7).attr("fill","#000")
       .attr("stroke","#fff").attr("stroke-width", p.obsLo ? 1.6 : 0.8);
    });
  }

  // axes
  g.append("line").attr("x1",axX).attr("x2",axX).attr("y1",y0).attr("y2",y(p.ymax)).attr("stroke","#000").attr("stroke-width",2);
  g.append("line").attr("x1",axX-9).attr("x2",x(2030)).attr("y1",y0).attr("y2",y0).attr("stroke","#000").attr("stroke-width",2);
  p.ticks.forEach((t,k)=>{
    const ty = y(t);
    g.append("line").attr("x1",axX-9).attr("x2",axX).attr("y1",ty).attr("y2",ty).attr("stroke","#000").attr("stroke-width",2);
    g.append("text").attr("transform",`translate(${axX-16.5},${ty}) rotate(-90)`)
     .attr("text-anchor","middle").attr("font-size",yTickFont).attr("fill","#000").text(p.tickLabels[k]);
  });
  xTicks.forEach(t=>{
    g.append("line").attr("x1",x(t)).attr("x2",x(t)).attr("y1",y0).attr("y2",y0+9).attr("stroke","#000").attr("stroke-width",2);
    if (row===3) {
      g.append("text").attr("transform",`translate(${x(t)},${y0+23}) rotate(-90)`)
       .attr("text-anchor","end").attr("dy","0.35em").attr("font-size",xTickFont).attr("fill","#000").text(String(t));
    }
  });
  // title
  g.append("text").attr("x",colX[col]+plotW/2-3).attr("y",rowTop[row]-19)
   .attr("text-anchor","middle").attr("font-size",titleFont).attr("font-weight","bold").attr("fill","#000").text(p.name);
});

// axis titles
const yl = svg.append("text").attr("transform","translate(55,790) rotate(-90)")
  .attr("text-anchor","middle").attr("font-size",45).attr("fill","#000");
yl.append("tspan").text("Biomass (t  km");
yl.append("tspan").attr("dy",-17).attr("font-size",31).text("\u22122");
yl.append("tspan").attr("dy",17).text(")");
svg.append("text").attr("x",652).attr("y",1675).attr("text-anchor","middle")
  .attr("font-size",40).attr("fill","#000").text("Time (year)");
</script>
</body></html>
